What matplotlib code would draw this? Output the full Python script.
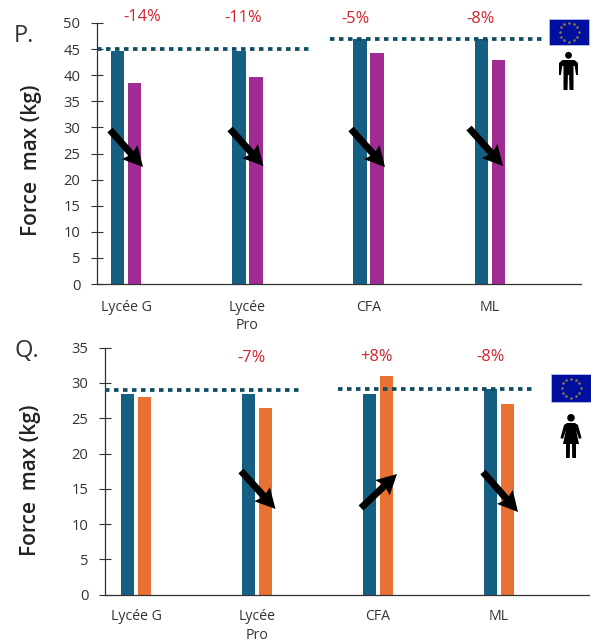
import numpy as np
import matplotlib
matplotlib.use('Agg')
import matplotlib.pyplot as plt
from matplotlib.patches import Rectangle, Circle, Polygon

W, H = 591, 643
BLUE = '#156082'
PURPLE = '#A02B93'
ORANGE = '#E97132'
DOTS = '#0F4C63'
RED = '#D2232A'
INK = '#333333'

categories = ['Lycée G', 'Lycée\nPro', 'CFA', 'ML']

# Panel P (men)
p_blue = [44.7, 44.7, 47, 47]
p_purple = [38.5, 39.7, 44.3, 43]
p_ref = [45, 47]
p_pct = ['-14%', '-11%', '-5%', '-8%']

# Panel Q (women)
q_blue = [28.5, 28.5, 28.5, 29.2]
q_orange = [28, 26.4, 31, 27]
q_ref = [29, 29.2]
q_pct = ['', '-7%', '+8%', '-8%']

plt.rcParams['font.family'] = ['Open Sans', 'DejaVu Sans']

fig = plt.figure(figsize=(W / 100, H / 100), dpi=100)


def make_axes(left, right, top, bottom):
    return fig.add_axes([left / W, 1 - bottom / H, (right - left) / W, (bottom - top) / H])


def panel(ax, xlim, ymax, step, blue, other, color, ref, ref_spans, pad):
    x = np.arange(len(categories))
    ax.bar(x - 0.07, blue, 0.112, color=BLUE, zorder=2)
    ax.bar(x + 0.07, other, 0.112, color=color, zorder=2)
    for val, span in zip(ref, ref_spans):
        ax.plot(span, [val, val], color=DOTS, lw=2.7, dashes=(1.2, 1.2), zorder=3)
    ax.set_xlim(*xlim)
    ax.set_ylim(0, ymax)
    ax.set_yticks(np.arange(0, ymax + 1, step))
    ax.set_xticks(x)
    ax.set_xticklabels(categories, fontsize=10.2, color=INK, linespacing=1.3, va='top')
    ax.tick_params(axis='x', length=0, pad=pad)
    ax.tick_params(axis='y', direction='inout', length=8, width=0.8, color=INK,
                   labelsize=10.6, labelcolor=INK, pad=8)
    for side in ['top', 'right']:
        ax.spines[side].set_visible(False)
    for side in ['left', 'bottom']:
        ax.spines[side].set_linewidth(0.9)
        ax.spines[side].set_color(INK)
    ax.patch.set_alpha(0)


ax_p = make_axes(97, 581, 23, 284)
panel(ax_p, (-0.239, 3.751), 50, 5, p_blue, p_purple, PURPLE, p_ref,
      [(-0.239, 1.54), (1.68, 3.45)], 11.5)

ax_q = make_axes(105, 589, 347.7, 594.7)
panel(ax_q, (-0.256, 3.744), 35, 5, q_blue, q_orange, ORANGE, q_ref,
      [(-0.256, 1.38), (1.67, 3.29)], 10.5)

# Overlay in pixel units for annotations, flags and icons
ov = fig.add_axes([0, 0, 1, 1], zorder=5)
ov.set_xlim(0, W)
ov.set_ylim(H, 0)
ov.axis('off')

ov.text(14, 36, 'P.', fontsize=17, color=INK, ha='left', va='center')
ov.text(14, 351, 'Q.', fontsize=17, color=INK, ha='left', va='center')
ov.text(32, 160, 'Force  max (kg)', fontsize=15, fontweight='semibold', color='#222222',
        rotation=90, ha='center', va='center')
ov.text(31, 480, 'Force  max (kg)', fontsize=15, fontweight='semibold', color='#222222',
        rotation=90, ha='center', va='center')

for label, px, py in zip(p_pct, [142, 243, 356, 481], [17, 18, 19, 19]):
    ov.text(px, py, label, fontsize=11.8, color=RED, ha='center', va='center')
for label, px, py in zip(q_pct, [0, 251, 376, 491], [0, 358, 357, 357]):
    ov.text(px, py, label, fontsize=11.8, color=RED, ha='center', va='center')

# Trend arrows: start x, start y, tip x, tip y
arrows = [
    (110, 130, 143, 167), (230, 129, 263.5, 166), (351, 129, 385, 167), (469, 128, 503, 166),
    (241, 471, 275.5, 509), (361, 508, 397, 474), (483, 472, 518, 512),
]
for x0, y0, x1, y1 in arrows:
    ov.arrow(x0, y0, x1 - x0, y1 - y0, width=7, head_width=21, head_length=20, overhang=0.1,
             length_includes_head=True, color='black', lw=0)


def flag(left, top, width, height):
    ov.add_patch(Rectangle((left, top), width, height, fc='#000F9E', ec='#B9BDE6', lw=0.6))
    cx, cy = left + width / 2, top + height / 2
    ang = np.arange(12) * np.pi / 6
    ov.scatter(cx + 9.5 * np.cos(ang), cy + 9.5 * np.sin(ang), s=3.5, c='#8A7C48', lw=0)


def man(cx, top):
    ov.add_patch(Circle((cx, top + 3.3), 3.4, fc='black', ec='none'))
    body = [(-6, 8), (6, 8), (9.5, 11), (9.5, 23), (7.6, 23), (6.2, 14), (5, 14), (5, 38), (1, 38),
            (0.6, 23), (-0.6, 23), (-1, 38), (-5, 38), (-5, 14), (-6.2, 14), (-7.6, 23), (-9.5, 23), (-9.5, 11)]
    ov.add_patch(Polygon([(cx + a, top + b) for a, b in body], fc='black', ec='none'))


def woman(cx, top):
    ov.add_patch(Circle((cx, top + 3.8), 3.8, fc='black', ec='none'))
    body = [(-4, 9), (4, 9), (7, 11), (10.5, 24), (8, 25), (5, 16), (8, 30), (5, 30), (5, 44), (1.2, 44),
            (1, 30), (-1, 30), (-1.2, 44), (-5, 44), (-5, 30), (-8, 30), (-5, 16), (-8, 25), (-10.5, 24), (-7, 11)]
    ov.add_patch(Polygon([(cx + a, top + b) for a, b in body], fc='black', ec='none'))


flag(549, 19, 40, 26)
flag(551, 374, 40, 28)
man(568.5, 52)
woman(571, 414)

fig.savefig('out.png', dpi=100)
